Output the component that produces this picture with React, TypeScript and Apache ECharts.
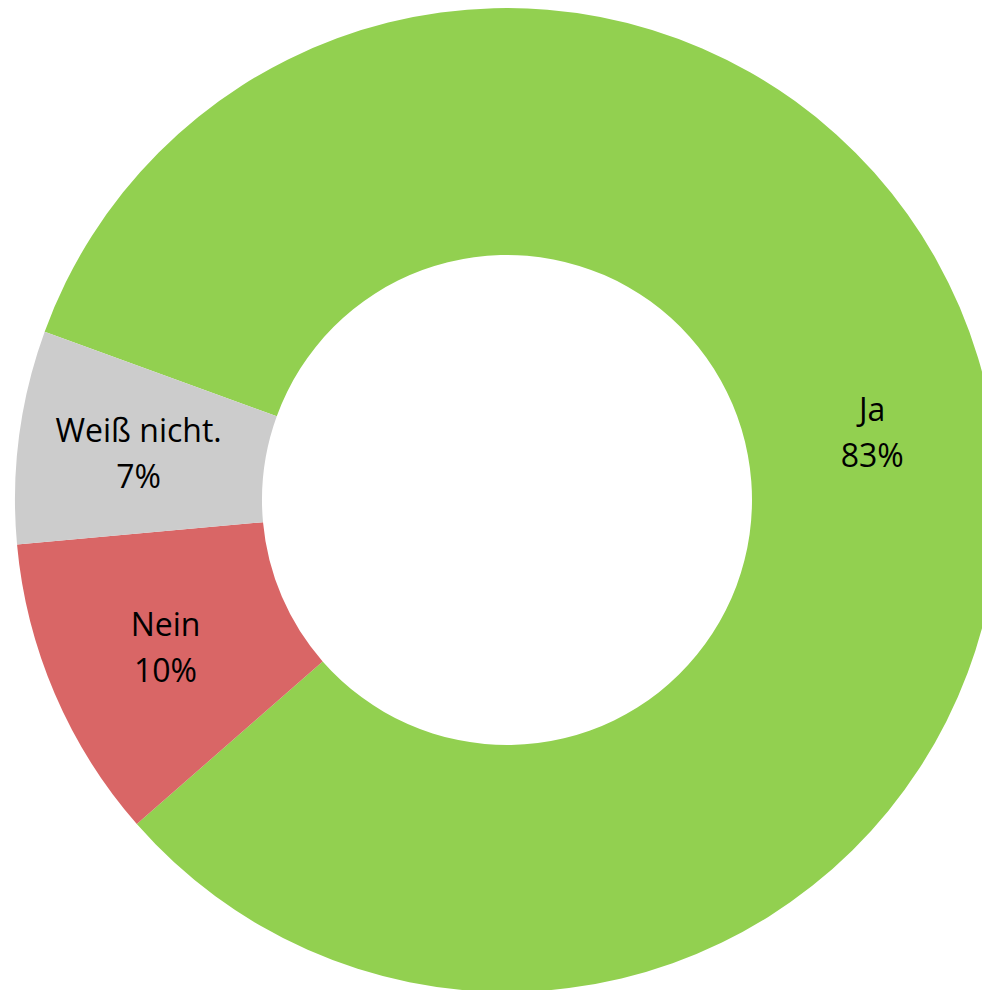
import React, { useEffect, useRef } from "react";
import * as echarts from "echarts";

const categories = ["Ja", "Nein", "Weiß nicht."];
const values = [83, 10, 7];
const colors = ["#92D050", "#D96666", "#CCCCCC"];

export default function App() {
  const ref = useRef<HTMLDivElement>(null);
  useEffect(() => {
    if (!ref.current) return;
    const chart = echarts.init(ref.current, null, { renderer: "svg" });
    chart.setOption({
      animation: false,
      backgroundColor: "#ffffff",
      series: [
        {
          type: "pie",
          center: [507, 500],
          radius: [245, 492],
          startAngle: 160,
          clockwise: true,
          avoidLabelOverlap: false,
          label: {
            show: true,
            position: "inside",
            formatter: (p: any) => `${p.name}\n${p.value}%`,
            color: "#000000",
            fontSize: 32,
            lineHeight: 46,
            fontFamily: "Open Sans, Noto Sans, sans-serif",
          },
          labelLine: { show: false },
          itemStyle: { borderWidth: 0 },
          emphasis: { disabled: true },
          data: categories.map((c, i) => ({
            name: c,
            value: values[i],
            itemStyle: { color: colors[i] },
          })),
        },
      ],
    });
    return () => chart.dispose();
  }, []);
  return (
    <div
      ref={ref}
      style={{ position: "absolute", left: 0, top: 0, width: 982, height: 990 }}
    />
  );
}
